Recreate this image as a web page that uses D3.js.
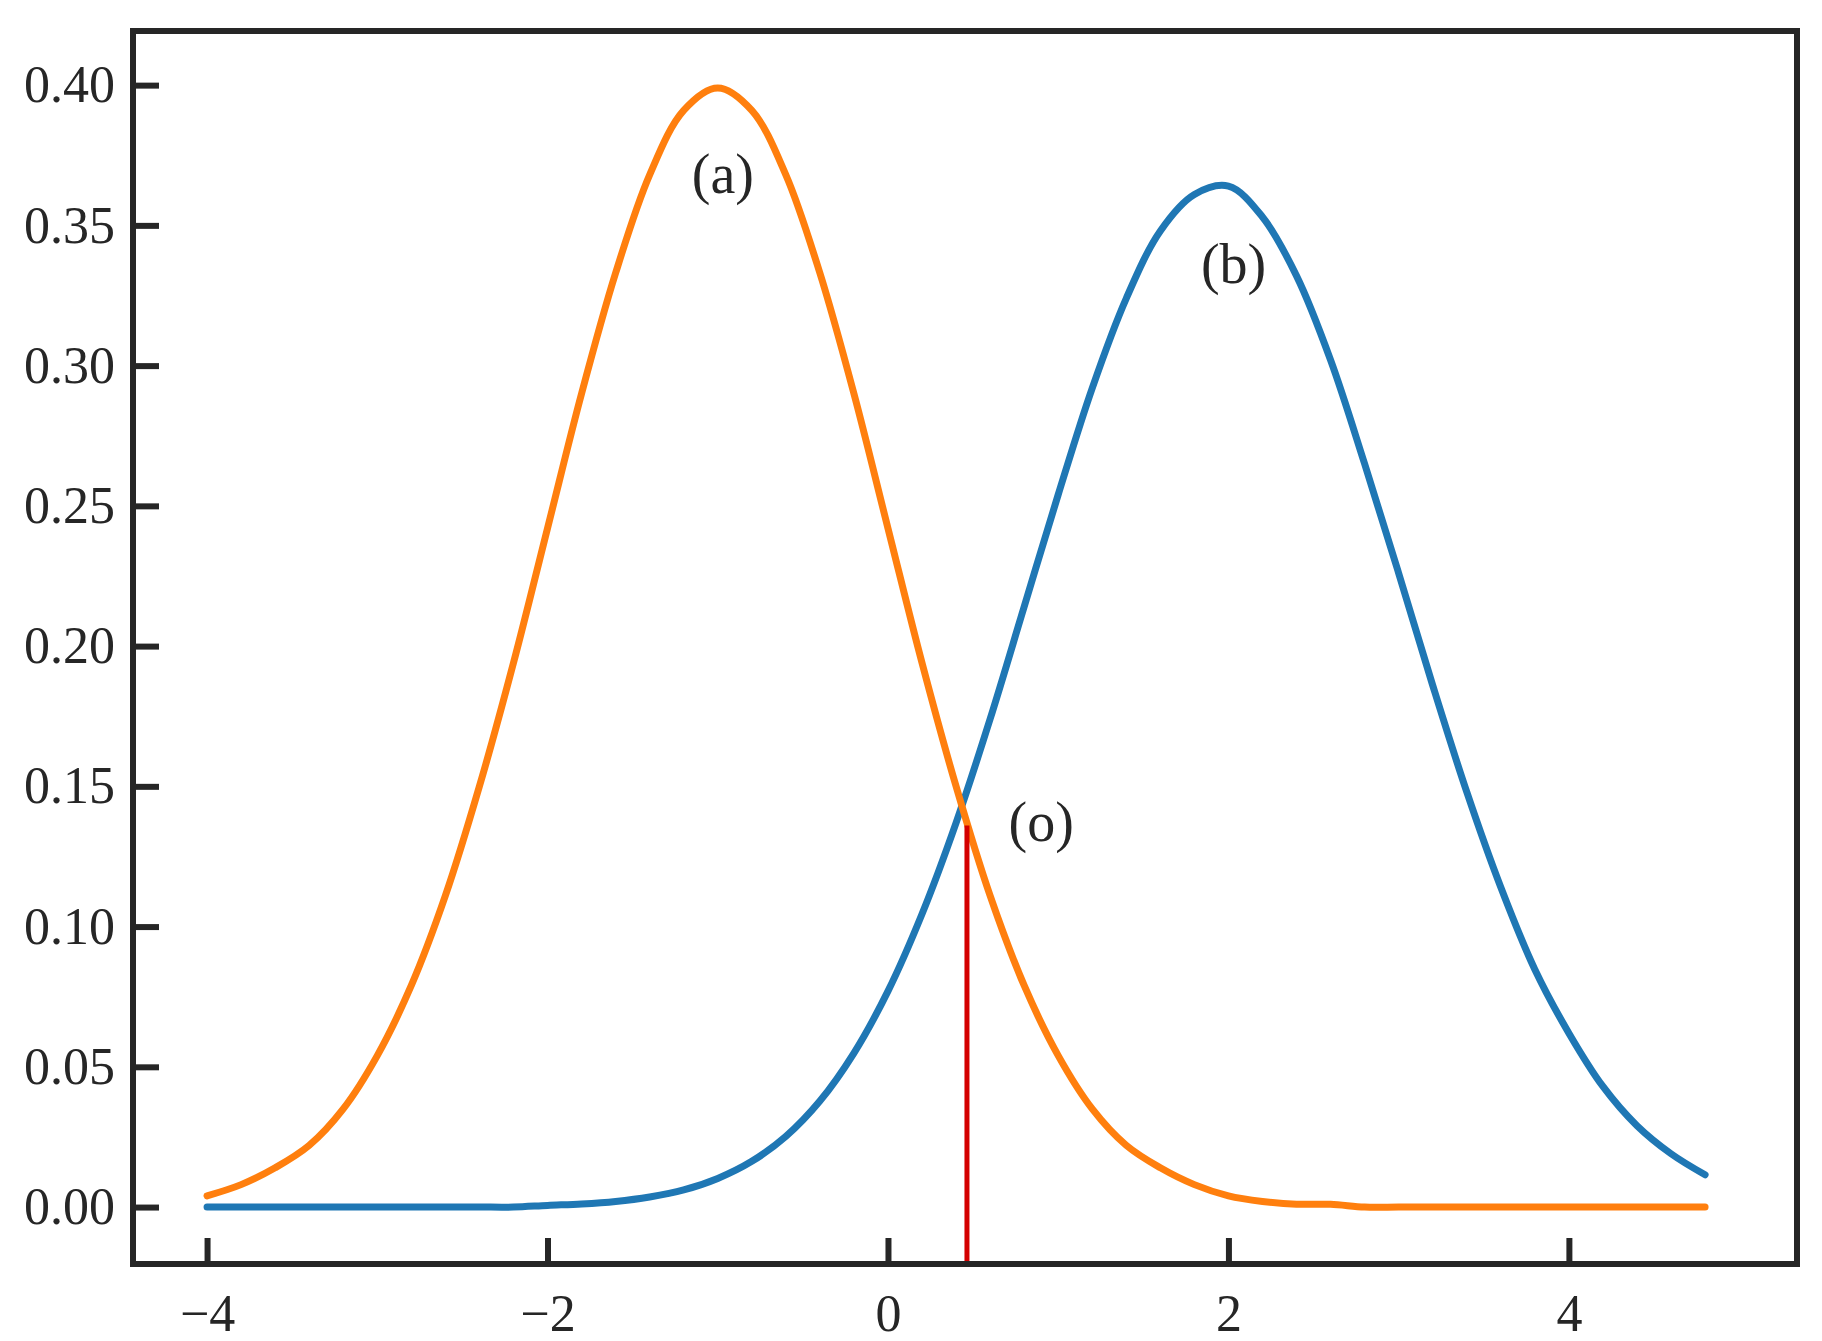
<!DOCTYPE html>
<html>
<head>
<meta charset="utf-8">
<script src="https://cdn.jsdelivr.net/npm/d3@7"></script>
<style>
body { margin: 0; background: #fff; }
text { font-family: "Liberation Serif", serif; fill: #262626; }
</style>
</head>
<body>
<div id="chart"></div>
<script>
// data
const X_VALUES = d3.range(45).map(i => -4 + i * 0.2);
const ORANGE = [0.004, 0.008, 0.014, 0.022, 0.035, 0.054, 0.079, 0.111, 0.150, 0.194,
  0.242, 0.290, 0.333, 0.368, 0.391, 0.399, 0.391, 0.368, 0.333, 0.290,
  0.242, 0.194, 0.150, 0.111, 0.079, 0.054, 0.035, 0.022, 0.014, 0.008,
  0.004, 0.002, 0.001, 0.001, 0, 0, 0, 0, 0, 0, 0, 0, 0, 0, 0];
const BLUE = [0, 0, 0, 0, 0, 0, 0, 0, 0, 0,
  0.0006, 0.0011, 0.0020, 0.0036, 0.0061, 0.0102, 0.0163, 0.0252, 0.0378, 0.0549,
  0.0770, 0.1045, 0.137, 0.174, 0.214, 0.254, 0.292, 0.324, 0.348, 0.361,
  0.364, 0.353, 0.332, 0.302, 0.265, 0.226, 0.186, 0.148, 0.114, 0.0847,
  0.062, 0.043, 0.029, 0.019, 0.0115];
const X_TICKS = [-4, -2, 0, 2, 4];
const Y_TICKS = [0, 0.05, 0.10, 0.15, 0.20, 0.25, 0.30, 0.35, 0.40];
const RED_LINE = {x: 0.464, y: 0.136};
const LABELS = [{t: "(a)", x: -0.97, y: 0.366}, {t: "(b)", x: 2.03, y: 0.334}, {t: "(o)", x: 0.90, y: 0.135}];

const FRAME_WIDTH = 1822, FRAME_HEIGHT = 1341;
const MARGINS = {left: 133, right: 25, top: 31, bottom: 77};

const svg = d3.select("#chart").append("svg")
  .attr("width", FRAME_WIDTH).attr("height", FRAME_HEIGHT);

const x = d3.scaleLinear().domain([-4.435, 5.34]).range([MARGINS.left, FRAME_WIDTH - MARGINS.right]);
const y = d3.scaleLinear().domain([-0.0203, 0.4193]).range([FRAME_HEIGHT - MARGINS.bottom, MARGINS.top]);

// axes, ticks pointing inward
svg.append("g")
  .attr("transform", "translate(0," + (FRAME_HEIGHT - MARGINS.bottom) + ")")
  .call(d3.axisBottom(x).tickValues(X_TICKS).tickSize(-26).tickPadding(30)
    .tickFormat(d => d < 0 ? "\u2212" + Math.abs(d) : d))
  .call(g => g.select(".domain").remove())
  .call(g => g.selectAll("line").attr("stroke", "#262626").attr("stroke-width", 6))
  .call(g => g.selectAll("text").attr("font-size", 52).style("font-family", "Liberation Serif").attr("fill", "#262626"));

svg.append("g")
  .attr("transform", "translate(" + MARGINS.left + ",0)")
  .call(d3.axisLeft(y).tickValues(Y_TICKS).tickSize(-26).tickPadding(18).tickFormat(d3.format(".2f")))
  .call(g => g.select(".domain").remove())
  .call(g => g.selectAll("line").attr("stroke", "#262626").attr("stroke-width", 6))
  .call(g => g.selectAll("text").attr("font-size", 52).style("font-family", "Liberation Serif").attr("fill", "#262626"));

const line = d3.line().curve(d3.curveCatmullRom).x((d, i) => x(X_VALUES[i])).y(d => y(d));

svg.append("path").datum(BLUE)
  .attr("fill", "none").attr("stroke", "#1f77b4").attr("stroke-width", 7)
  .attr("stroke-linecap", "round").attr("d", line);

svg.append("path").datum(ORANGE)
  .attr("fill", "none").attr("stroke", "#ff7f0e").attr("stroke-width", 7)
  .attr("stroke-linecap", "round").attr("d", line);

svg.append("line")
  .attr("x1", x(RED_LINE.x)).attr("x2", x(RED_LINE.x))
  .attr("y1", FRAME_HEIGHT - MARGINS.bottom).attr("y2", y(RED_LINE.y))
  .attr("stroke", "#d40000").attr("stroke-width", 5);

svg.selectAll(".lbl").data(LABELS).enter().append("text")
  .attr("x", d => x(d.x)).attr("y", d => y(d.y))
  .attr("text-anchor", "middle").attr("dominant-baseline", "middle")
  .attr("font-size", 56).text(d => d.t);

// frame
svg.append("rect")
  .attr("x", MARGINS.left).attr("y", MARGINS.top)
  .attr("width", FRAME_WIDTH - MARGINS.left - MARGINS.right)
  .attr("height", FRAME_HEIGHT - MARGINS.top - MARGINS.bottom)
  .attr("fill", "none").attr("stroke", "#262626").attr("stroke-width", 6);
</script>
</body>
</html>
